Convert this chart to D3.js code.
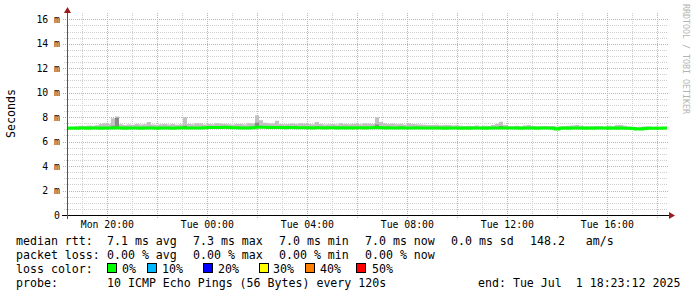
<!DOCTYPE html>
<html><head><meta charset="utf-8">
<script src="https://cdn.jsdelivr.net/npm/d3@7"></script>
<style>
html,body{margin:0;padding:0;background:#fff;}
svg{display:block;}
text{font-family:"DejaVu Sans Mono",monospace;}
</style></head>
<body>
<svg id="chart" width="697" height="297"></svg>
<script>
// ---- data ----
const startTime = new Date(2025, 5, 30, 18, 23, 12);
const endTime = new Date(2025, 6, 1, 18, 23, 12);
const stepMinutes = 9.6;
const medianRtt = [
7.10,7.11,7.10,7.12,7.11,7.10,7.12,7.11,7.10,7.12,
7.11,7.12,7.13,7.11,7.10,7.12,7.11,7.12,7.10,7.11,
7.12,7.11,7.10,7.11,7.12,7.11,7.10,7.12,7.13,7.12,
7.11,7.12,7.11,7.12,7.14,7.15,7.16,7.15,7.16,7.17,
7.15,7.14,7.13,7.12,7.11,7.12,7.14,7.17,7.18,7.17,
7.16,7.15,7.16,7.15,7.14,7.15,7.16,7.14,7.13,7.14,
7.13,7.12,7.14,7.13,7.12,7.13,7.14,7.12,7.13,7.12,
7.13,7.12,7.14,7.13,7.12,7.13,7.14,7.15,7.13,7.12,
7.13,7.12,7.11,7.13,7.12,7.11,7.12,7.13,7.12,7.11,
7.12,7.11,7.12,7.11,7.10,7.11,7.12,7.11,7.10,7.11,
7.10,7.11,7.12,7.11,7.10,7.11,7.12,7.11,7.12,7.11,
7.11,7.12,7.11,7.10,7.11,7.12,7.11,7.10,7.11,7.12,
7.11,7.10,7.03,7.10,7.11,7.10,7.11,7.12,7.11,7.10,
7.11,7.10,7.11,7.12,7.11,7.10,7.11,7.10,7.11,7.10,
7.09,7.08,7.03,7.04,7.08,7.10,7.09,7.10,7.10,7.11];
const smokeInner = [
7.16,7.17,7.16,7.18,7.17,7.16,7.18,7.17,7.18,7.20,
7.18,7.30,7.95,7.18,7.16,7.18,7.17,7.18,7.16,7.17,
7.22,7.17,7.16,7.17,7.18,7.17,7.16,7.18,7.19,7.30,
7.17,7.18,7.17,7.18,7.20,7.21,7.22,7.21,7.22,7.23,
7.21,7.20,7.19,7.18,7.17,7.20,7.22,7.55,7.30,7.24,
7.22,7.21,7.28,7.21,7.20,7.21,7.22,7.20,7.19,7.20,
7.19,7.18,7.24,7.19,7.18,7.19,7.20,7.18,7.19,7.18,
7.19,7.18,7.20,7.19,7.18,7.19,7.20,7.40,7.22,7.18,
7.19,7.18,7.17,7.19,7.18,7.17,7.18,7.19,7.18,7.17,
7.18,7.17,7.18,7.17,7.16,7.17,7.18,7.17,7.16,7.17,
7.16,7.17,7.18,7.17,7.16,7.17,7.18,7.20,7.28,7.17,
7.17,7.18,7.17,7.16,7.17,7.18,7.17,7.16,7.17,7.18,
7.17,7.16,7.10,7.16,7.17,7.16,7.17,7.18,7.17,7.16,
7.17,7.16,7.17,7.18,7.17,7.16,7.17,7.18,7.19,7.16,
7.15,7.14,7.10,7.10,7.14,7.16,7.15,7.16,7.16,7.17];
const smokeOuter = [
7.22,7.20,7.25,7.30,7.28,7.32,7.30,7.34,7.45,7.50,
7.45,7.90,8.05,7.42,7.35,7.40,7.38,7.45,7.40,7.42,
7.60,7.40,7.38,7.42,7.45,7.40,7.44,7.38,7.42,8.00,
7.45,7.42,7.50,7.48,7.40,7.44,7.42,7.50,7.48,7.45,
7.42,7.40,7.45,7.44,7.40,7.50,7.48,8.15,7.75,7.55,
7.50,7.48,7.70,7.45,7.42,7.45,7.48,7.44,7.50,7.48,
7.45,7.42,7.60,7.44,7.40,7.42,7.45,7.40,7.50,7.44,
7.42,7.45,7.48,7.42,7.50,7.48,7.45,8.00,7.60,7.50,
7.45,7.48,7.42,7.45,7.40,7.50,7.44,7.42,7.40,7.38,
7.36,7.35,7.38,7.34,7.36,7.35,7.32,7.34,7.30,7.28,
7.30,7.28,7.32,7.26,7.30,7.28,7.35,7.45,7.62,7.35,
7.28,7.26,7.30,7.25,7.32,7.35,7.28,7.26,7.25,7.28,
7.26,7.28,7.22,7.25,7.28,7.30,7.32,7.36,7.30,7.25,
7.24,7.26,7.28,7.25,7.22,7.30,7.26,7.35,7.36,7.30,
7.24,7.22,7.20,7.22,7.24,7.26,7.22,7.24,7.22,7.20];
const yTickValues = [0, 2, 4, 6, 8, 10, 12, 14, 16];
const yTickLabels = ["0", "2 m", "4 m", "6 m", "8 m", "10 m", "12 m", "14 m", "16 m"];
const yLabel = "Seconds";
const watermark = "RRDTOOL / TOBI OETIKER";
const lossLabels = ["0%", "10%", "20%", "30%", "40%", "50%"];
const lossColors = ["#00ff00", "#00b8ff", "#0000ff", "#ffff00", "#ff8000", "#ff0000"];
const legendRtt = ["median rtt:", "7.1 ms avg", "7.3 ms max", "7.0 ms min", "7.0 ms now", "0.0 ms sd", "148.2   am/s"];
const legendLoss = ["packet loss:", "0.00 % avg", "0.00 % max", "0.00 % min", "0.00 % now"];
const legendProbe = ["probe:", "10 ICMP Echo Pings (56 Bytes) every 120s", "end: Tue Jul  1 18:23:12 2025"];

// ---- layout ----
const svg = d3.select("#chart");
const L = 67, R = 667, B = 215, T = 13;
const x = d3.scaleTime().domain([startTime, endTime]).range([L, R]);
const y = d3.scaleLinear().domain([0, 16]).range([B, 19.3]);

const pts = medianRtt.map((m, i) => ({
  t: new Date(startTime.getTime() + i * stepMinutes * 60000),
  m, q: smokeInner[i], h: smokeOuter[i]
}));
pts.push({t: endTime, m: medianRtt[medianRtt.length-1], q: smokeInner[smokeInner.length-1], h: smokeOuter[smokeOuter.length-1]});

const grid = svg.append("g");
// minor horizontal
const minorY = d3.range(0.5, 16.01, 0.5).filter(v => v % 2 !== 0);
grid.selectAll(".hmin").data(minorY).join("line")
  .attr("x1", 64).attr("x2", R + 1)
  .attr("y1", d => Math.round(y(d)) + 0.5).attr("y2", d => Math.round(y(d)) + 0.5)
  .attr("stroke", "#cfcfcf").attr("stroke-dasharray", "1,1");
// minor vertical
const minorX = x.ticks(d3.timeHour.every(1)).filter(d => d.getHours() % 2 !== 0);
grid.selectAll(".vmin").data(minorX).join("line")
  .attr("x1", d => Math.round(x(d)) + 0.5).attr("x2", d => Math.round(x(d)) + 0.5)
  .attr("y1", T).attr("y2", B)
  .attr("stroke", "#cfcfcf").attr("stroke-dasharray", "1,1");
// major horizontal
grid.selectAll(".hmaj").data(yTickValues.filter(v => v > 0)).join("line")
  .attr("x1", 63).attr("x2", R + 1)
  .attr("y1", d => Math.round(y(d)) + 0.5).attr("y2", d => Math.round(y(d)) + 0.5)
  .attr("stroke", "#e8a0a0").attr("stroke-dasharray", "1,1");
// major vertical
const majorX = x.ticks(d3.timeHour.every(2));
grid.selectAll(".vmaj").data(majorX).join("line")
  .attr("x1", d => Math.round(x(d)) + 0.5).attr("x2", d => Math.round(x(d)) + 0.5)
  .attr("y1", T).attr("y2", B + 4)
  .attr("stroke", "#e8a0a0").attr("stroke-dasharray", "1,1");

// smoke
const areaOuter = d3.area().x(d => x(d.t)).y0(d => y(d.m)).y1(d => y(d.h)).curve(d3.curveStepAfter);
const areaInner = d3.area().x(d => x(d.t)).y0(d => y(d.m)).y1(d => y(d.q)).curve(d3.curveStepAfter);
svg.append("path").datum(pts).attr("d", areaOuter).attr("fill", "#c2c2c2");
svg.append("path").datum(pts).attr("d", areaInner).attr("fill", "#8a8a8a");
// median line
const line = d3.line().x(d => x(d.t)).y(d => y(d.m)).curve(d3.curveStepAfter);
svg.append("path").datum(pts).attr("d", line).attr("fill", "none")
  .attr("stroke", lossColors[0]).attr("stroke-width", 3);

// axes
svg.append("line").attr("x1", 62).attr("x2", 670).attr("y1", B + 0.5).attr("y2", B + 0.5).attr("stroke", "#000");
svg.append("line").attr("x1", L + 0.5).attr("x2", L + 0.5).attr("y1", B + 4).attr("y2", 10).attr("stroke", "#555");
svg.append("path").attr("d", "M64,13L71,13L67.5,7Z").attr("fill", "#9b1c1c");
svg.append("path").attr("d", "M669,212L669,219L675,215.5Z").attr("fill", "#9b1c1c");

// y tick labels
svg.selectAll(".ylab").data(yTickValues).join("text")
  .attr("x", 60).attr("y", d => y(d) + 3.5).attr("text-anchor", "end")
  .attr("font-size", "9.8px").attr("fill", "#000")
  .text((d, i) => yTickLabels[i]);
// x tick labels
const fmt = d3.timeFormat("%a %H:%M");
svg.selectAll(".xlab").data(x.ticks(d3.timeHour.every(4))).join("text")
  .attr("x", d => x(d)).attr("y", 228).attr("text-anchor", "middle")
  .attr("font-size", "9.8px").attr("fill", "#000")
  .text(d => fmt(d));

// y label
svg.append("text").attr("transform", "translate(14.5,113.5) rotate(-90)")
  .attr("text-anchor", "middle").attr("font-size", "11.6px").attr("fill", "#000").text(yLabel);
// watermark
svg.append("text").attr("transform", "translate(683,59) rotate(90)")
  .attr("text-anchor", "middle").attr("font-size", "8.3px").attr("fill", "#b4b4b4").text(watermark);

// legend
const fs = "11.6px";
const rttX = [16, 107, 193, 279, 365, 451, 530];
legendRtt.forEach((s, i) => svg.append("text").attr("x", rttX[i]).attr("y", 244.5)
  .attr("font-size", fs).style("white-space", "pre").text(s));
legendLoss.forEach((s, i) => svg.append("text").attr("x", rttX[i]).attr("y", 258.7)
  .attr("font-size", fs).text(s));
svg.append("text").attr("x", 16).attr("y", 272.8).attr("font-size", fs).text("loss color:");
const swX = [107, 147, 203, 259, 305, 356];
const labX = [122, 162, 218, 273, 320, 372];
lossLabels.forEach((s, i) => {
  svg.append("rect").attr("x", swX[i] + 0.5).attr("y", 263.5).attr("width", 9).attr("height", 9)
    .attr("fill", lossColors[i]).attr("stroke", "#000").attr("stroke-width", 1);
  svg.append("text").attr("x", labX[i]).attr("y", 272.8).attr("font-size", fs).text(s);
});
const probeX = [16, 107, 478];
legendProbe.forEach((s, i) => svg.append("text").attr("x", probeX[i]).attr("y", 286.8)
  .attr("font-size", fs).style("white-space", "pre").text(s));
</script>
</body></html>
